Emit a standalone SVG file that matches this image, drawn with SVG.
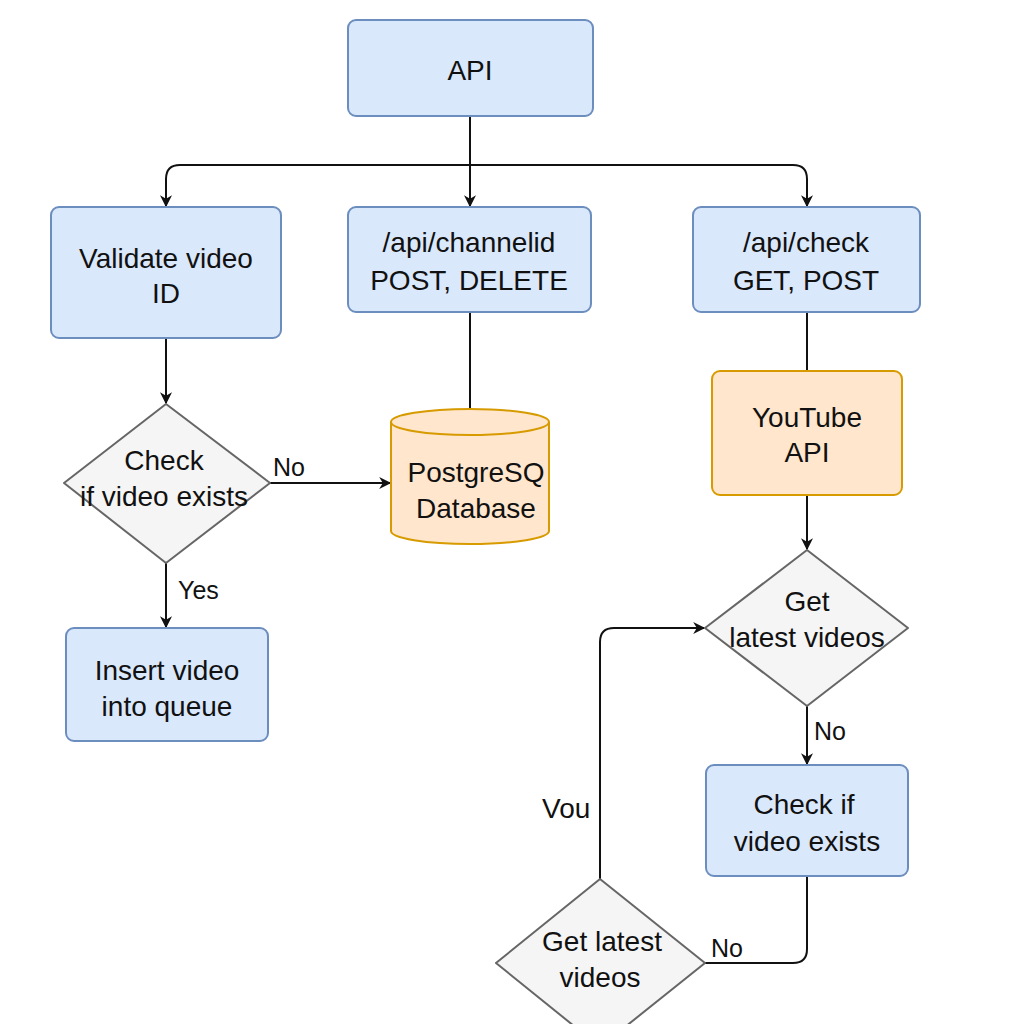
<svg xmlns="http://www.w3.org/2000/svg" width="1024" height="1024" viewBox="0 0 1024 1024">
<defs>
<marker id="arr" viewBox="0 0 10 10" refX="9" refY="5" markerWidth="14" markerHeight="12" markerUnits="userSpaceOnUse" orient="auto">
<path d="M0,0 L10,5 L0,10 L3,5 z" fill="#111"/>
</marker>
<style>
.blue{fill:#dae8fc;stroke:#6c8ebf;stroke-width:2}
.orange{fill:#ffe6cc;stroke:#d79b00;stroke-width:2}
.dia{fill:#f5f5f5;stroke:#666666;stroke-width:2}
.t{font-family:"Liberation Sans",Arial,sans-serif;font-size:28px;fill:#111;text-anchor:middle}
.l{font-family:"Liberation Sans",Arial,sans-serif;font-size:25px;fill:#111}
.c{fill:none;stroke:#111;stroke-width:2}
</style>
</defs>
<rect width="1024" height="1024" fill="#ffffff"/>
<g id="connectors">
<path class="c" d="M470,116 V206" marker-end="url(#arr)"/>
<path class="c" d="M470,165 H180 Q166,165 166,179 V206" marker-end="url(#arr)"/>
<path class="c" d="M470,165 H793 Q807,165 807,179 V206" marker-end="url(#arr)"/>
<path class="c" d="M470,312 V410"/>
<path class="c" d="M166,338 V403" marker-end="url(#arr)"/>
<path class="c" d="M270,483 H390" marker-end="url(#arr)"/>
<path class="c" d="M166,563 V627" marker-end="url(#arr)"/>
<path class="c" d="M807,312 V371"/>
<path class="c" d="M807,495 V549" marker-end="url(#arr)"/>
<path class="c" d="M807,706 V764" marker-end="url(#arr)"/>
<path class="c" d="M807,876 V949 Q807,963 793,963 H705"/>
<path class="c" d="M600,879 V642 Q600,628 614,628 H704" marker-end="url(#arr)"/>
<text class="l" x="273" y="476">No</text>
<text class="l" x="178" y="599">Yes</text>
<text class="l" x="814" y="740">No</text>
<text class="l" x="711" y="957">No</text>
<text class="l" x="542" y="818" style="font-size:28px">Vou</text>
</g>
<g id="api">
<rect class="blue" x="348" y="20" width="245" height="96" rx="8"/>
<text class="t" x="470" y="80">API</text>
</g>
<g id="validate">
<rect class="blue" x="51" y="207" width="230" height="131" rx="8"/>
<text class="t" x="166" y="268">Validate video</text>
<text class="t" x="166" y="303">ID</text>
</g>
<g id="channelid">
<rect class="blue" x="348" y="207" width="243" height="105" rx="8"/>
<text class="t" x="469" y="252">/api/channelid</text>
<text class="t" x="469" y="290">POST, DELETE</text>
</g>
<g id="check">
<rect class="blue" x="693" y="207" width="227" height="105" rx="8"/>
<text class="t" x="806" y="252">/api/check</text>
<text class="t" x="806" y="290">GET, POST</text>
</g>
<g id="postgres">
<path class="orange" d="M391,422 V531 A79,13 0 0 0 549,531 V422 A79,13 0 0 0 391,422 Z"/>
<path class="orange" d="M391,422 A79,13 0 0 0 549,422" fill="none"/>
<text class="t" x="476" y="482">PostgreSQ</text>
<text class="t" x="476" y="518">Database</text>
</g>
<g id="checkexists">
<polygon class="dia" points="166,404 270,483 166,563 64,483" stroke-linejoin="round"/>
<text class="t" x="164" y="470">Check</text>
<text class="t" x="164" y="506">if video exists</text>
</g>
<g id="insert">
<rect class="blue" x="66" y="628" width="202" height="113" rx="8"/>
<text class="t" x="167" y="680">Insert video</text>
<text class="t" x="167" y="716">into queue</text>
</g>
<g id="youtube">
<rect class="orange" x="712" y="371" width="190" height="124" rx="8"/>
<text class="t" x="807" y="427">YouTube</text>
<text class="t" x="807" y="462">API</text>
</g>
<g id="getlatest">
<polygon class="dia" points="807,550 908,628 807,706 705,628" stroke-linejoin="round"/>
<text class="t" x="807" y="611">Get</text>
<text class="t" x="807" y="647">latest videos</text>
</g>
<g id="checkif">
<rect class="blue" x="706" y="765" width="202" height="111" rx="8"/>
<text class="t" x="804" y="814">Check if</text>
<text class="t" x="807" y="851">video exists</text>
</g>
<g id="getlatest2">
<polygon class="dia" points="600,879 705,963 600,1047 496,963" stroke-linejoin="round"/>
<text class="t" x="602" y="951">Get latest</text>
<text class="t" x="600" y="987">videos</text>
</g>
</svg>
